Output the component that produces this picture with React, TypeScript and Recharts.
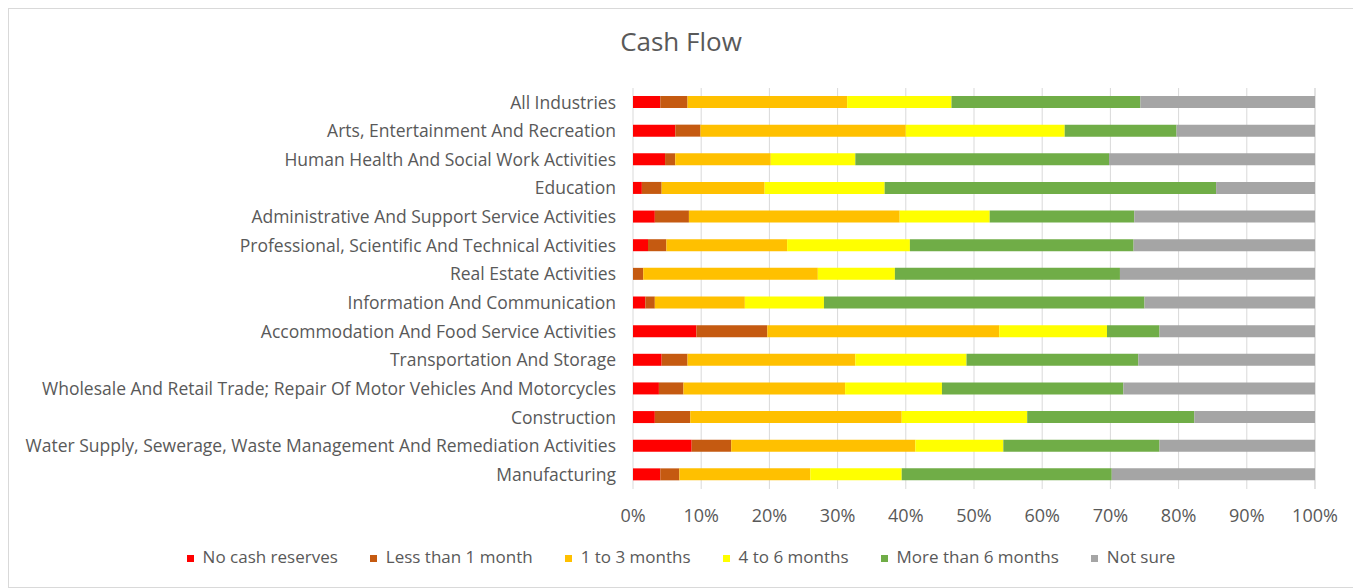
import { BarChart, Bar, XAxis, YAxis, CartesianGrid } from 'recharts';

const categories = [
  'All Industries',
  'Arts, Entertainment And Recreation',
  'Human Health And Social Work Activities',
  'Education',
  'Administrative And Support Service Activities',
  'Professional, Scientific And Technical Activities',
  'Real Estate Activities',
  'Information And Communication',
  'Accommodation And Food Service Activities',
  'Transportation And Storage',
  'Wholesale And Retail Trade; Repair Of Motor Vehicles And Motorcycles',
  'Construction',
  'Water Supply, Sewerage, Waste Management And Remediation Activities',
  'Manufacturing',
];

const noCash = [4.0, 6.2, 4.7, 1.3, 3.2, 2.2, 0, 1.8, 9.3, 4.2, 3.8, 3.2, 8.6, 4.0];
const lessThan1 = [4.0, 3.7, 1.5, 2.9, 5.0, 2.7, 1.5, 1.4, 10.4, 3.8, 3.6, 5.2, 5.8, 2.8];
const oneToThree = [23.4, 30.1, 14.0, 15.1, 30.9, 17.7, 25.6, 13.2, 34.0, 24.6, 23.7, 31.0, 27.0, 19.2];
const fourToSix = [15.3, 23.3, 12.4, 17.6, 13.2, 18.0, 11.3, 11.6, 15.8, 16.3, 14.2, 18.4, 12.9, 13.4];
const moreThan6 = [27.7, 16.4, 37.2, 48.6, 21.2, 32.8, 33.0, 47.0, 7.7, 25.2, 26.6, 24.5, 22.9, 30.8];
const notSure = [25.6, 20.3, 30.2, 14.5, 26.5, 26.6, 28.6, 25.0, 22.8, 25.9, 28.1, 17.7, 22.8, 29.8];

const xTicks = [0, 10, 20, 30, 40, 50, 60, 70, 80, 90, 100];

const series = [
  { key: 'noCash', name: 'No cash reserves', color: '#FF0000' },
  { key: 'lessThan1', name: 'Less than 1 month', color: '#C55A11' },
  { key: 'oneToThree', name: '1 to 3 months', color: '#FFC000' },
  { key: 'fourToSix', name: '4 to 6 months', color: '#FFFF00' },
  { key: 'moreThan6', name: 'More than 6 months', color: '#70AD47' },
  { key: 'notSure', name: 'Not sure', color: '#A5A5A5' },
];

const data = categories.map((name, i) => ({
  name,
  noCash: noCash[i],
  lessThan1: lessThan1[i],
  oneToThree: oneToThree[i],
  fourToSix: fourToSix[i],
  moreThan6: moreThan6[i],
  notSure: notSure[i],
}));

const FONT = '"Open Sans", "Noto Sans", sans-serif';
const TEXT = '#595959';

export default function App() {
  return (
    <div
      style={{
        position: 'relative',
        width: 1346,
        height: 580,
        border: '1px solid #d9d9d9',
        background: '#fff',
        fontFamily: FONT,
        boxSizing: 'border-box',
      }}
    >
      <div
        style={{
          position: 'absolute',
          top: 14,
          left: 0,
          width: '100%',
          textAlign: 'center',
          fontSize: 26,
          color: TEXT,
        }}
      >
        Cash Flow
      </div>
      <BarChart
        width={1344}
        height={578}
        data={data}
        layout="vertical"
        barSize={12}
        margin={{ top: 79, right: 38, left: 0, bottom: 60 }}
      >
        <CartesianGrid horizontal={false} stroke="#d9d9d9" />
        <XAxis
          type="number"
          domain={[0, 100]}
          ticks={xTicks}
          tickFormatter={(v) => `${v}%`}
          axisLine={false}
          tickLine={false}
          tickMargin={14}
          height={38}
          tick={{ fill: TEXT, fontSize: 18, fontFamily: FONT }}
        />
        <YAxis
          type="category"
          dataKey="name"
          width={624}
          axisLine={false}
          tickLine={false}
          tickMargin={11}
          interval={0}
          tick={{ fill: TEXT, fontSize: 17.5, fontFamily: FONT }}
        />
        {series.map((s) => (
          <Bar
            key={s.key}
            dataKey={s.key}
            name={s.name}
            stackId="a"
            fill={s.color}
            isAnimationActive={false}
          />
        ))}
      </BarChart>
      <div
        style={{
          position: 'absolute',
          top: 536,
          left: 0,
          width: '100%',
          display: 'flex',
          justifyContent: 'center',
          gap: 32,
          fontSize: 17,
          color: TEXT,
        }}
      >
        {series.map((s) => (
          <div key={s.key} style={{ display: 'flex', alignItems: 'center' }}>
            <span
              style={{
                display: 'inline-block',
                width: 7,
                height: 7,
                background: s.color,
                marginRight: 9,
                position: 'relative',
                top: 2,
              }}
            />
            <span>{s.name}</span>
          </div>
        ))}
      </div>
    </div>
  );
}
